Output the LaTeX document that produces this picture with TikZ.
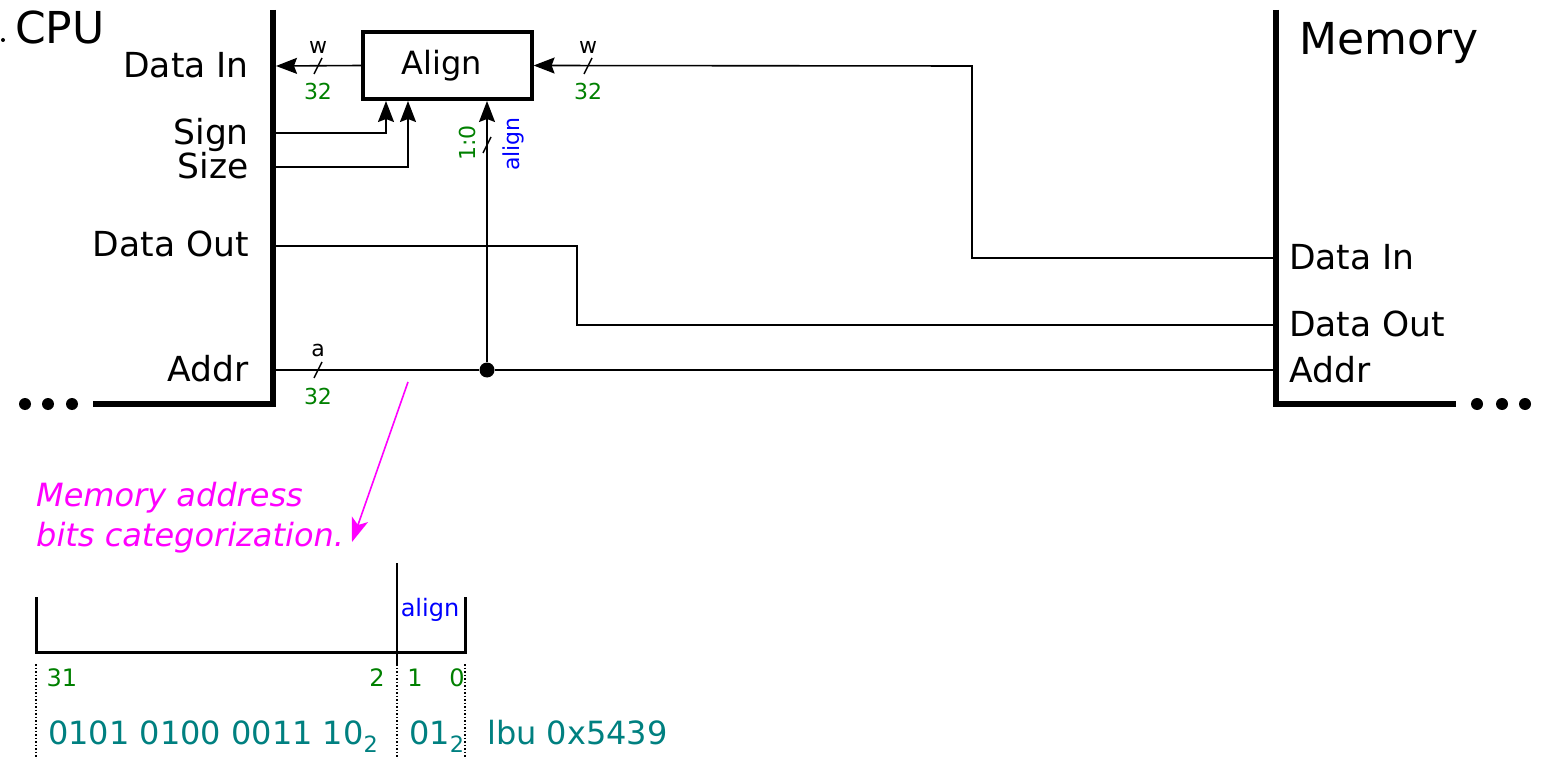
\documentclass[tikz,border=0pt]{standalone}
\usepackage{fontspec}
\setmainfont{DejaVu Sans}
\usetikzlibrary{arrows.meta}
\definecolor{dgreen}{RGB}{0,128,0}
\definecolor{tealc}{RGB}{0,128,128}
\definecolor{magc}{RGB}{255,0,255}
\definecolor{bluec}{RGB}{0,0,255}
\newcommand{\fsz}[1]{\fontsize{#1}{#1}\selectfont}
\begin{document}
\begin{tikzpicture}[x=1pt,y=-1pt,
  conn/.style={line width=1.6, line join=miter},
  bar/.style={line width=6, line join=miter},
  arr/.style={-{Stealth[length=21,width=16,inset=3]}},
  lbl/.style={inner sep=0, font=\fsz{34.5}},
  ttl/.style={inner sep=0, font=\fsz{44}},
  small/.style={inner sep=0, font=\fsz{22}},
  num/.style={inner sep=0, font=\fsz{22}, text=dgreen},
  dotc/.style={circle, fill, inner sep=0, minimum size=12},
  slash/.style={line width=1.5}]
\useasboundingbox (0,0) rectangle (1542,759);
% CPU
\draw[bar] (273,10) -- (273,404) -- (93,404);
\node[dotc] (cd1) at (25,404) {};
\node[dotc] (cd2) at (48,404) {};
\node[dotc] (cd3) at (72,404) {};
\node[circle, fill, inner sep=0, minimum size=4] (tdot) at (3,40) {};
\node[ttl, anchor=base west] (cpu) at (15,44) {CPU};
\node[lbl, anchor=base east] (ldin) at (249,78) {Data In};
\node[lbl, anchor=base east] (lsign) at (249,145) {Sign};
\node[lbl, anchor=base east] (lsize) at (249,179) {Size};
\node[lbl, anchor=base east] (ldout) at (249,257) {Data Out};
\node[lbl, anchor=base east] (laddr) at (249,381) {Addr};
\coordinate (cdin) at (276,66);
\coordinate (csign) at (276,133);
\coordinate (csize) at (276,167);
\coordinate (cdout) at (276,246);
\coordinate (caddr) at (276,370);
% Memory
\draw[bar] (1276,10) -- (1276,404) -- (1456,404);
\node[dotc] (md1) at (1477,404) {};
\node[dotc] (md2) at (1502,404) {};
\node[dotc] (md3) at (1525,404) {};
\node[ttl, anchor=base west] (mem) at (1299,55) {Memory};
\node[lbl, anchor=base west] (mdin) at (1289,270) {Data In};
\node[lbl, anchor=base west] (mdout) at (1289,337) {Data Out};
\node[lbl, anchor=base west] (maddr) at (1289,382) {Addr};
\coordinate (pdin) at (1273,258);
\coordinate (pdout) at (1273,325);
\coordinate (paddr) at (1273,370);
% Align box
\node[draw, line width=3.2, minimum width=169, minimum height=67, inner sep=0] (align) at (447.5,65.5) {};
\node[inner sep=0, font=\fsz{32}] (alignt) at (442,66) {Align};
\coordinate (asign) at (386,101);
\coordinate (asize) at (408,101);
\coordinate (aal) at (487,101);
\node[circle, fill, inner sep=0, minimum size=15] (j) at (487,370) {};
% connectors
\draw[conn, arr] (align.west) -- (cdin);
\draw[conn, arr] (csign) -| (asign);
\draw[conn, arr] (csize) -| (asize);
\draw[conn, arr] (j) -- (aal);
\coordinate (r1) at (972,66);
\coordinate (r2) at (972,258);
\draw[conn, arr] (pdin) -- (r2) -- (r1) -- (align.east);
\coordinate (d1) at (577,246);
\coordinate (d2) at (577,325);
\draw[conn] (cdout) -- (d1) -- (d2) -- (pdout);
\draw[conn] (caddr) -- (j) -- (paddr);
% bus slashes
\draw[slash] (314,74) -- (322,58);
\node[small] (w1) at (318,47) {w};
\node[num] (n1) at (318,91) {32};
\draw[slash] (584,74) -- (592,58);
\node[small] (w2) at (588,47) {w};
\node[num] (n2) at (588,91) {32};
\draw[slash] (314,378) -- (322,362);
\node[small] (a1) at (318,350) {a};
\node[num] (n3) at (318,396) {32};
\draw[slash] (483,153) -- (491,137);
\node[num, rotate=90] (r10) at (467,143) {1:0};
\node[inner sep=0, font=\fsz{22}, text=bluec, rotate=90] (ral) at (513,144) {align};
% annotation
\node[inner sep=0, font=\fsz{32}\itshape, text=magc, anchor=base west] (m1) at (36,506) {Memory address};
\node[inner sep=0, font=\fsz{32}\itshape, text=magc, anchor=base west] (m2) at (36,546) {bits categorization.};
\coordinate (ms) at (408,382);
\coordinate (me) at (352,542);
\draw[line width=1.6, magc, -{Stealth[length=24,width=17,inset=6]}] (ms) -- (me);
% bit field
\draw[line width=3, line join=miter] (36,597) -- (36,652) -- (465,652) -- (465,597);
\draw[line width=1.5] (397,563) -- (397,664);
\draw[dotted, line width=1.5] (36,664) -- (36,759);
\draw[dotted, line width=1.5] (397,664) -- (397,759);
\draw[dotted, line width=1.5] (465,664) -- (465,759);
\node[inner sep=0, font=\fsz{24}, text=bluec] (bal) at (430,610) {align};
\node[num, font=\fsz{24}] (b31) at (62,678) {31};
\node[num, font=\fsz{24}] (b2) at (377,678) {2};
\node[num, font=\fsz{24}] (b1) at (415,678) {1};
\node[num, font=\fsz{24}] (b0) at (457,678) {0};
\node[inner sep=0, font=\fsz{32}, text=tealc, anchor=base west] (v1) at (48,744) {0101 0100 0011 10\textsubscript{2}};
\node[inner sep=0, font=\fsz{32}, text=tealc, anchor=base west] (v2) at (409,744) {01\textsubscript{2}};
\node[inner sep=0, font=\fsz{32}, text=tealc, anchor=base west] (v3) at (487,744) {lbu 0x5439};
\end{tikzpicture}
\end{document}
